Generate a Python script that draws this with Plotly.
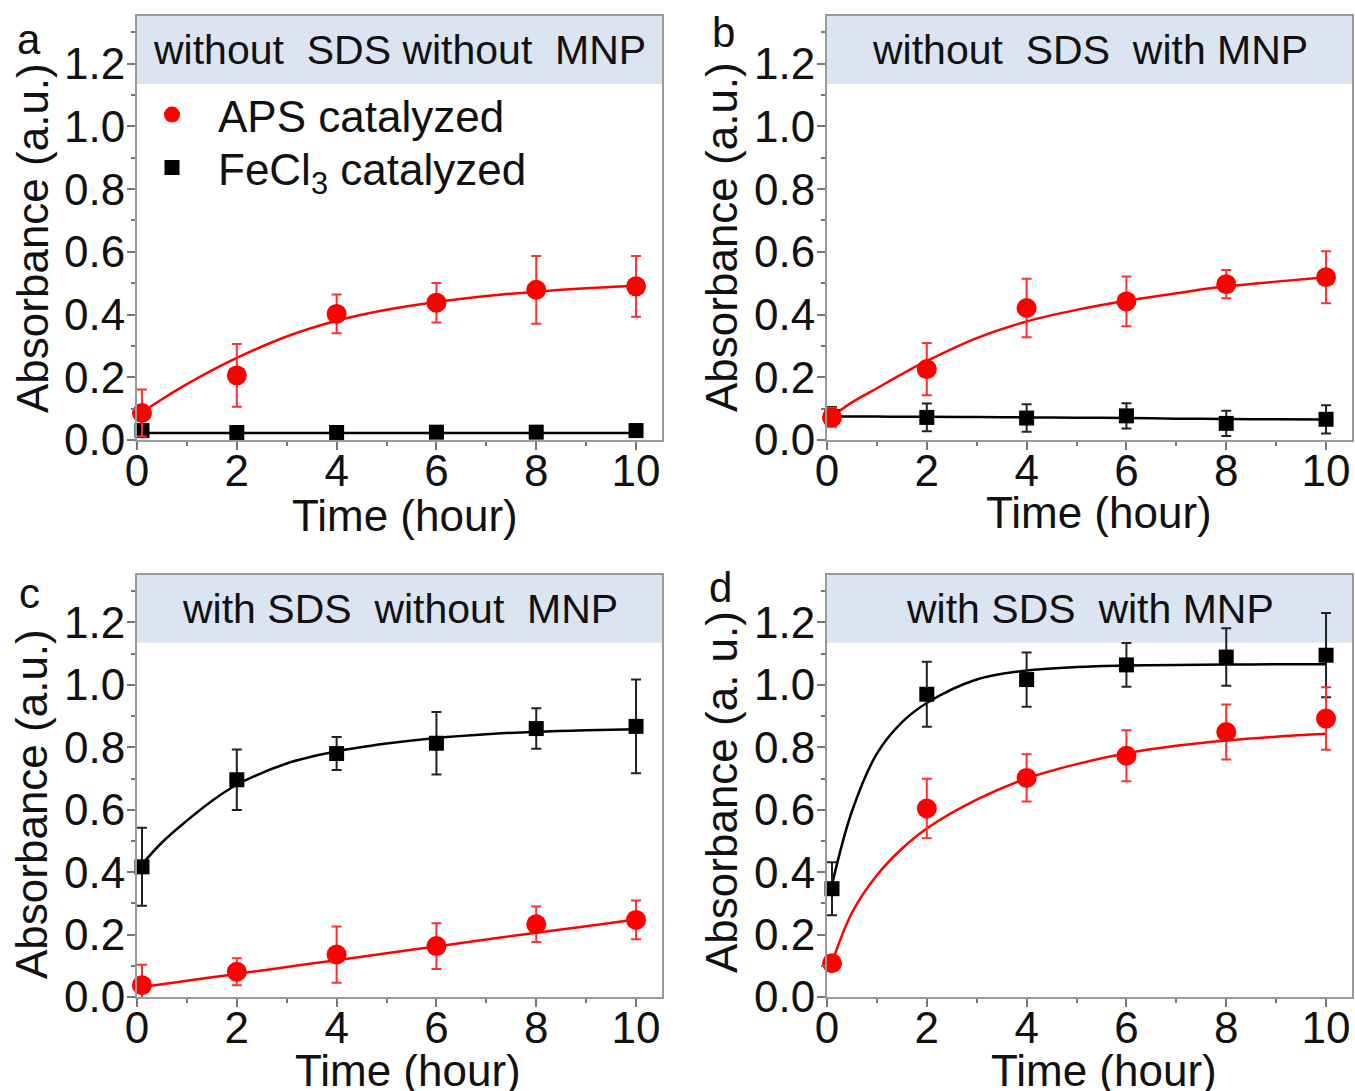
import plotly.graph_objects as go

# ---------------- data ----------------
time = [0.1, 2, 4, 6, 8, 10]
fit_t = [0.1, 0.5, 1, 1.5, 2, 3, 4, 5, 6, 7, 8, 9, 10]

a_aps = [0.086, 0.206, 0.402, 0.438, 0.479, 0.490]
a_aps_err = [0.075, 0.100, 0.062, 0.063, 0.108, 0.097]
a_fe = [0.030, 0.024, 0.024, 0.025, 0.025, 0.030]
a_fe_err = [0.015, 0.008, 0.008, 0.010, 0.010, 0.020]
a_aps_fit = [0.088, 0.130, 0.178, 0.222, 0.262, 0.330, 0.380, 0.415, 0.440, 0.459, 0.473, 0.484, 0.492]
a_fe_fit = [0.022, 0.022, 0.022, 0.022, 0.022, 0.022, 0.022, 0.022, 0.022, 0.022, 0.022, 0.022, 0.022]

b_aps = [0.072, 0.226, 0.421, 0.442, 0.497, 0.519]
b_aps_err = [0.030, 0.083, 0.093, 0.079, 0.045, 0.083]
b_fe = [0.075, 0.072, 0.070, 0.077, 0.053, 0.066]
b_fe_err = [0.030, 0.044, 0.044, 0.040, 0.040, 0.045]
b_aps_fit = [0.075, 0.120, 0.165, 0.210, 0.252, 0.325, 0.378, 0.415, 0.444, 0.468, 0.490, 0.505, 0.519]
b_fe_fit = [0.075, 0.075, 0.075, 0.074, 0.074, 0.073, 0.072, 0.071, 0.070, 0.068, 0.067, 0.066, 0.065]

c_aps = [0.038, 0.081, 0.136, 0.163, 0.233, 0.247]
c_aps_err = [0.065, 0.043, 0.090, 0.073, 0.057, 0.062]
c_fe = [0.417, 0.696, 0.780, 0.813, 0.860, 0.867]
c_fe_err = [0.125, 0.097, 0.053, 0.100, 0.065, 0.150]
c_aps_fit = [0.032, 0.041, 0.052, 0.063, 0.074, 0.096, 0.118, 0.140, 0.162, 0.184, 0.206, 0.227, 0.248]
c_fe_fit = [0.425, 0.495, 0.565, 0.628, 0.680, 0.748, 0.787, 0.812, 0.830, 0.842, 0.850, 0.855, 0.858]

d_aps = [0.108, 0.604, 0.702, 0.773, 0.849, 0.892]
d_aps_err = [0.020, 0.095, 0.076, 0.082, 0.088, 0.100]
d_fe = [0.347, 0.970, 1.017, 1.064, 1.089, 1.095]
d_fe_err = [0.085, 0.104, 0.087, 0.070, 0.092, 0.135]
d_aps_fit = [0.110, 0.270, 0.390, 0.475, 0.540, 0.632, 0.700, 0.746, 0.781, 0.805, 0.822, 0.834, 0.843]
d_fe_fit = [0.360, 0.595, 0.780, 0.880, 0.942, 1.017, 1.046, 1.057, 1.062, 1.064, 1.065, 1.066, 1.066]

panel_titles = ["without\u00a0 SDS without\u00a0 MNP", "without\u00a0 SDS\u00a0 with MNP",
                "with SDS\u00a0 without\u00a0 MNP", "with SDS\u00a0 with MNP"]
panel_letters = ["a", "b", "c", "d"]
y_titles = ["Absorbance (a.u.)", "Absorbance (a.u.)", "Absorbance (a.u.)", "Absorbance (a. u.)"]
x_title = "Time (hour)"
x_ticks = [0, 2, 4, 6, 8, 10]
y_ticks = [0.0, 0.2, 0.4, 0.6, 0.8, 1.0, 1.2]

panels = [
    (a_aps, a_aps_err, a_aps_fit, a_fe, a_fe_err, a_fe_fit),
    (b_aps, b_aps_err, b_aps_fit, b_fe, b_fe_err, b_fe_fit),
    (c_aps, c_aps_err, c_aps_fit, c_fe, c_fe_err, c_fe_fit),
    (d_aps, d_aps_err, d_aps_fit, d_fe, d_fe_err, d_fe_fit),
]

# ---------------- layout geometry ----------------
W, H = 1355, 1091
FONT = "Liberation Sans, Arial, sans-serif"
RED = "#ff0000"
BLACK = "#000000"
FRAME = "#9a9a9a"

xdoms = [[137 / W, 662 / W], [827 / W, 1352 / W], [137 / W, 662 / W], [827 / W, 1352 / W]]
ydoms = [[1 - 440 / H, 1 - 16 / H], [1 - 440 / H, 1 - 16 / H],
         [1 - 997 / H, 1 - 575 / H], [1 - 997 / H, 1 - 575 / H]]

fig = go.Figure()

for i, (aps, aps_e, aps_f, fe, fe_e, fe_f) in enumerate(panels):
    sfx = "" if i == 0 else str(i + 1)
    xa, ya = "x" + sfx, "y" + sfx
    fig.add_trace(go.Scatter(x=fit_t, y=fe_f, mode="lines", line=dict(color=BLACK, width=2.5, shape="spline"),
                             xaxis=xa, yaxis=ya, showlegend=False, hoverinfo="skip"))
    fig.add_trace(go.Scatter(x=fit_t, y=aps_f, mode="lines", line=dict(color=RED, width=2.5, shape="spline"),
                             xaxis=xa, yaxis=ya, showlegend=False, hoverinfo="skip"))
    fig.add_trace(go.Scatter(x=time, y=fe, mode="markers",
                             marker=dict(symbol="square", size=15, color=BLACK),
                             error_y=dict(type="data", array=fe_e, color="#222222", thickness=2, width=5),
                             xaxis=xa, yaxis=ya, showlegend=False, cliponaxis=False))
    fig.add_trace(go.Scatter(x=time, y=aps, mode="markers",
                             marker=dict(symbol="circle", size=20, color=RED),
                             error_y=dict(type="data", array=aps_e, color="#ff3030", thickness=2, width=5),
                             xaxis=xa, yaxis=ya, showlegend=False, cliponaxis=False))

    axis_common = dict(showline=True, linecolor=FRAME, linewidth=2, mirror=True,
                       ticks="outside", ticklen=8, tickwidth=2, tickcolor="#777777",
                       showgrid=False, zeroline=False, automargin=False,
                       tickfont=dict(family=FONT, size=44, color="#111111"))
    fig.update_layout(**{
        ("xaxis" + sfx): dict(axis_common, domain=xdoms[i], anchor=ya, range=[0, 10.52],
                             tickvals=x_ticks, ticklabelstandoff=-17,
                             minor=dict(ticks="outside", ticklen=4, tickwidth=2, tickcolor="#777777", dtick=1)),
        ("yaxis" + sfx): dict(axis_common, domain=ydoms[i], anchor=xa, range=[0, 1.352],
                             tickvals=y_ticks, tickformat=".1f", ticklabelstandoff=-7,
                             minor=dict(ticks="outside", ticklen=4, tickwidth=2, tickcolor="#777777", dtick=0.1)),
    })
    fig.add_shape(type="rect", xref=xa + " domain", yref=ya, x0=0, x1=1, y0=1.135, y1=1.352,
                  fillcolor="#dbe5f1", line=dict(width=0), layer="below")
    fig.add_annotation(xref=xa + " domain", yref=ya, x=0.5, y=1.243, text=panel_titles[i],
                       showarrow=False, font=dict(family=FONT, size=41, color="#111111"),
                       xanchor="center", yanchor="middle")

# legend entries (two single-item legends for exact spacing)
fig.add_trace(go.Scatter(x=[None], y=[None], mode="markers", name="APS catalyzed",
                         marker=dict(symbol="circle", size=22, color=RED), legend="legend"))
fig.add_trace(go.Scatter(x=[None], y=[None], mode="markers", name="FeCl<sub>3</sub> catalyzed",
                         marker=dict(symbol="square", size=15, color=BLACK), legend="legend2"))

ytitle_pos = [(33, 238), (721, 237), (31, 804), (721, 792)]
xtitle_pos = [(405, 515), (1099, 512), (408, 1070), (1104, 1070)]
letter_pos = [(29, 39), (723, 33), (29, 593), (720, 587)]
for i in range(4):
    fig.add_annotation(xref="paper", yref="paper", x=ytitle_pos[i][0] / W, y=1 - ytitle_pos[i][1] / H,
                       text=y_titles[i], textangle=-90, showarrow=False,
                       font=dict(family=FONT, size=44, color="#111111"), xanchor="center", yanchor="middle")
    fig.add_annotation(xref="paper", yref="paper", x=xtitle_pos[i][0] / W, y=1 - xtitle_pos[i][1] / H,
                       text=x_title, showarrow=False,
                       font=dict(family=FONT, size=44, color="#111111"), xanchor="center", yanchor="middle")
    fig.add_annotation(xref="paper", yref="paper", x=letter_pos[i][0] / W, y=1 - letter_pos[i][1] / H,
                       text=panel_letters[i], showarrow=False,
                       font=dict(family=FONT, size=42, color="#111111"), xanchor="center", yanchor="middle")

legend_common = dict(xanchor="left", yanchor="middle", bgcolor="rgba(0,0,0,0)", borderwidth=0,
                     itemwidth=82, font=dict(family=FONT, size=44, color="#111111"))
fig.update_layout(
    width=W, height=H, template="none",
    margin=dict(l=0, r=0, t=0, b=0),
    paper_bgcolor="white", plot_bgcolor="white",
    showlegend=True,
    legend=dict(legend_common, x=126 / W, y=1 - 115 / H),
    legend2=dict(legend_common, x=126 / W, y=1 - 168 / H),
    font=dict(family=FONT),
)

fig.write_html("out.html", config={"displayModeBar": False},
               post_script="document.body.style.margin='0';")
